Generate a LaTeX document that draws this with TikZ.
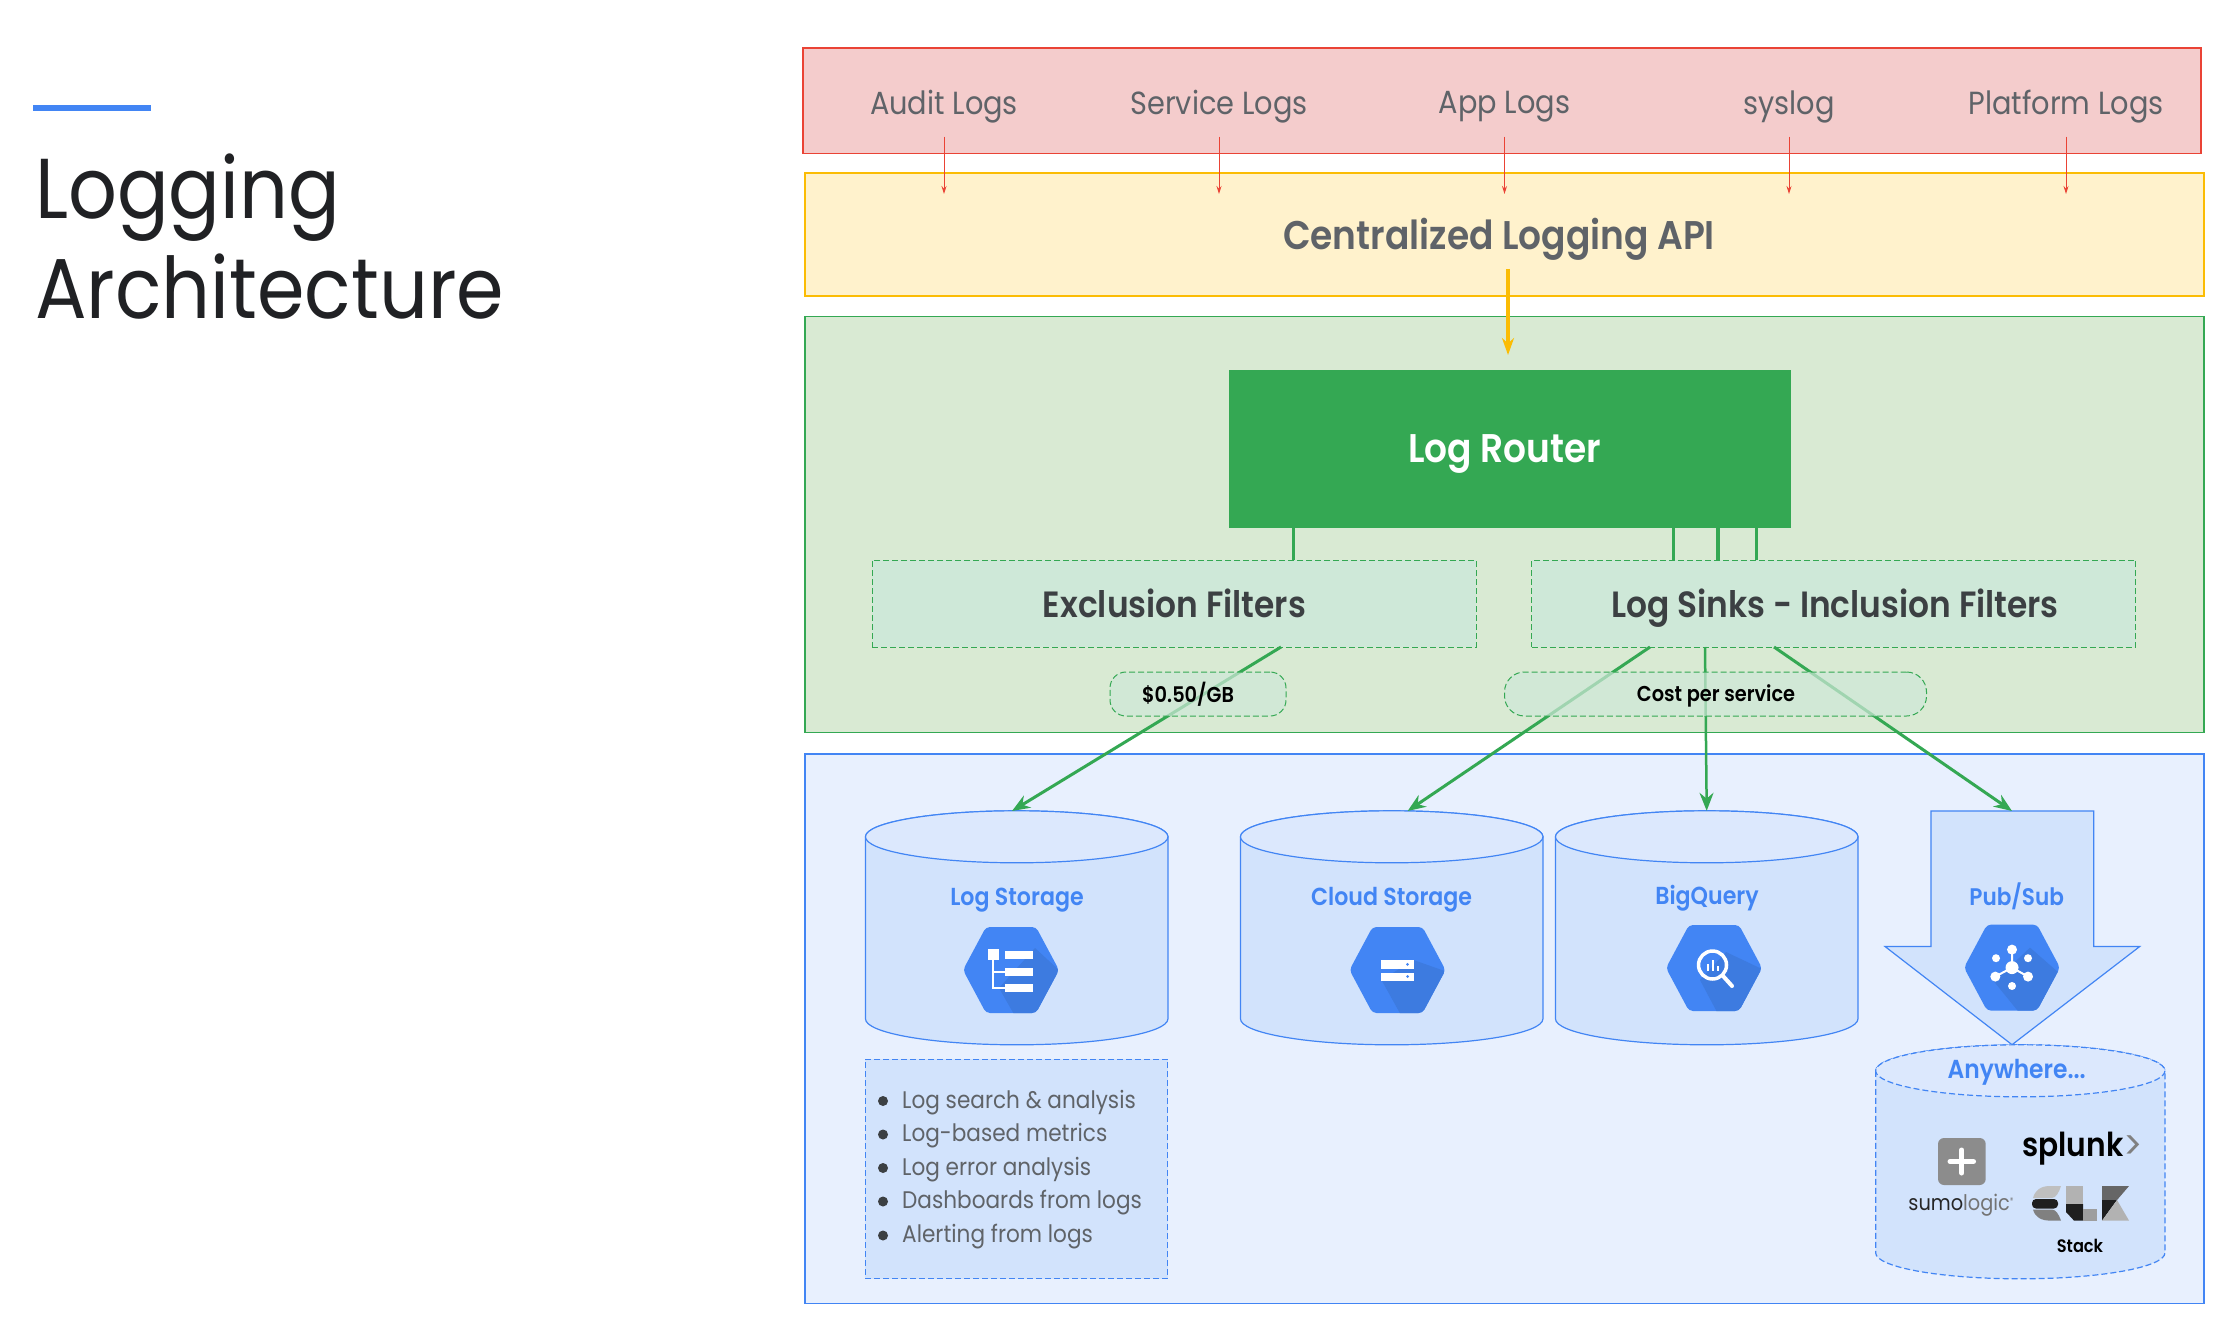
\documentclass[tikz,border=0pt]{standalone}
\usepackage{fontspec}
\usetikzlibrary{arrows.meta}
\setmainfont[FakeStretch=0.9]{Poppins}
\newfontfamily\semifont[FakeStretch=0.9]{Poppins SemiBold}
\definecolor{logred}{HTML}{EA4335}
\definecolor{logredfill}{HTML}{F4CCCC}
\definecolor{logyellow}{HTML}{FBBC04}
\definecolor{logyellowfill}{HTML}{FFF2CC}
\definecolor{loggreen}{HTML}{34A853}
\definecolor{loggreenfill}{HTML}{D9EAD3}
\definecolor{filterfill}{HTML}{CEE8D8}
\definecolor{logblue}{HTML}{4285F4}
\definecolor{logbluefill}{HTML}{E8F0FE}
\definecolor{cylbody}{HTML}{D2E3FC}
\definecolor{cyltop}{HTML}{DCE8FD}
\definecolor{hexshade}{HTML}{3D7BE0}
\definecolor{inkgray}{HTML}{3C4043}
\definecolor{softgray}{HTML}{5F6368}
\definecolor{titleink}{HTML}{202124}
\newlength{\du}
\setlength{\du}{1pt}
\newcommand{\fs}[1]{\fontsize{#1}{#1}\selectfont}
\tikzset{
  panel/.style={draw=#1, line width=1.2\du, minimum width=1399\du, inner sep=0pt},
  longdash/.style={dash pattern=on 6\du off 3\du},
  textline/.style={inner sep=0pt, execute at begin node=\vphantom{Ag}},
  filterbox/.style={draw=loggreen, fill=filterfill, longdash, line width=1\du, minimum width=604\du, minimum height=87\du, inner sep=0pt},
  filterlabel/.style={textline, text=inkgray, font=\semifont\fs{36.5}},
  pillbox/.style={draw=loggreen, longdash, rounded corners=16\du, line width=1\du, fill=filterfill, fill opacity=0.7, minimum height=44\du, inner sep=0pt},
  pilllabel/.style={textline, text=black, font=\semifont\fs{21.5}},
  lognode/.style={textline, text=softgray, font=\fs{32}, minimum height=59\du},
  bignode/.style={textline, font=\semifont\fs{40}},
  storebox/.style={minimum width=302.5\du, minimum height=234.4\du, inner sep=0pt},
  cylline/.style={draw=logblue, line width=1.2\du},
  cyllabel/.style={textline, text=logblue, font=\semifont\fs{24.6}},
  listitem/.style={textline, anchor=west, text=softgray, font=\fs{24}},
  redarrow/.style={draw=logred, line width=1\du, -{Stealth[length=8pt,width=5pt]}},
  yellowarrow/.style={draw=logyellow, line width=3.5\du, -{Stealth[length=17pt,width=12pt]}},
  greenarrow/.style={draw=loggreen, line width=3\du, -{Stealth[length=18pt,width=14pt]}},
  stub/.style={draw=loggreen, line width=3\du}
}
% hexagon badge, y runs downwards
\newcommand{\hexbadge}[3]{%
  \begin{scope}[shift={(#1\du,#2\du)}]
    \fill[logblue, rounded corners=4\du] (48\du,0\du)--(25\du,43\du)--(-25\du,43\du)--(-48\du,0\du)--(-25\du,-43\du)--(25\du,-43\du)--cycle;
    \begin{scope}
      \clip[rounded corners=4\du] (48\du,0\du)--(25\du,43\du)--(-25\du,43\du)--(-48\du,0\du)--(-25\du,-43\du)--(25\du,-43\du)--cycle;
      #3
    \end{scope}
  \end{scope}}
% store drum hung from the top of a named box
\newcommand{\drum}[3][]{%
  \begin{scope}[shift={(#2.north)}]
    \draw[cylline, fill=cylbody, #1] (-#3\du,26\du) -- (-#3\du,208\du) arc[start angle=180, end angle=0, x radius=#3\du, y radius=26\du] -- (#3\du,26\du) arc[start angle=0, end angle=-180, x radius=#3\du, y radius=26\du] -- cycle;
    \draw[cylline, fill=cyltop, #1] (0\du,26\du) ellipse [x radius=#3\du, y radius=26\du];
  \end{scope}}
\begin{document}
\begin{tikzpicture}
\pgftransformxscale{1.000000}
\pgftransformyscale{-1.000000}
\useasboundingbox (0\du,0\du) rectangle (2234\du,1324\du);
\fill[white] (0\du,0\du) rectangle (2234\du,1324\du);
% title
\fill[logblue] (33\du,105\du) rectangle (151\du,111\du);
\node[anchor=base west, inner sep=0pt, text=titleink, font=\fs{85}] (titleone) at (35\du,218.5\du) {Logging};
\node[anchor=base west, inner sep=0pt, text=titleink, font=\fs{85}] (titletwo) at (35\du,318.5\du) {Architecture};
% panels
\node[panel=logred, fill=logredfill, minimum width=1398\du, minimum height=105.5\du] (sources) at (1502\du,100.8\du) {};
\node[panel=logyellow, fill=logyellowfill, minimum height=123\du] (api) at (1504.5\du,234.5\du) {};
\node[panel=loggreen, fill=loggreenfill, minimum height=416\du] (routing) at (1504.5\du,524.5\du) {};
\node[panel=logblue, fill=logbluefill, minimum height=549.5\du] (sinks) at (1504.5\du,1028.8\du) {};
% sources
\node[lognode] (audit) at (944\du,107\du) {Audit Logs};
\node[lognode] (service) at (1219\du,107\du) {Service Logs};
\node[lognode] (app) at (1504.5\du,107\du) {App Logs};
\node[lognode] (syslog) at (1789\du,107\du) {syslog};
\node[lognode] (platform) at (2066\du,107\du) {Platform Logs};
\coordinate (auditin) at (944\du,194\du);
\coordinate (servicein) at (1219\du,194\du);
\coordinate (appin) at (1504.5\du,194\du);
\coordinate (syslogin) at (1789\du,194\du);
\coordinate (platformin) at (2066\du,194\du);
\draw[redarrow] (audit.south) -- (auditin);
\draw[redarrow] (service.south) -- (servicein);
\draw[redarrow] (app.south) -- (appin);
\draw[redarrow] (syslog.south) -- (syslogin);
\draw[redarrow] (platform.south) -- (platformin);
\node[bignode, text=softgray] (apilabel) at (1499\du,239.5\du) {Centralized Logging API};
% router and filters
\node[fill=loggreen, minimum width=562\du, minimum height=158\du, inner sep=0pt] (router) at (1510\du,449\du) {};
\node[bignode, text=white] (routerlabel) at (1504.5\du,454\du) {Log Router};
\coordinate (apiout) at (1508\du,269\du);
\coordinate (routerin) at (1508\du,355\du);
\draw[yellowarrow] (apiout) -- (routerin);
\node[filterbox] (exclusion) at (1174\du,603.5\du) {};
\node[filterbox] (inclusion) at (1833.5\du,603.5\du) {};
\node[filterlabel] (exclusionlabel) at (1174.5\du,608\du) {Exclusion Filters};
\node[filterlabel] (inclusionlabel) at (1835\du,608\du) {Log Sinks - Inclusion Filters};
\coordinate (stubone) at (1293\du,545\du);
\coordinate (stubtwo) at (1673\du,545\du);
\coordinate (stubthree) at (1718\du,545\du);
\coordinate (stubfour) at (1756\du,545\du);
\draw[stub] (router.south -| stubone) -- (exclusion.north -| stubone);
\draw[stub] (router.south -| stubtwo) -- (inclusion.north -| stubtwo);
\draw[stub, line width=4\du] (router.south -| stubthree) -- (inclusion.north -| stubthree);
\draw[stub] (router.south -| stubfour) -- (inclusion.north -| stubfour);
% stores
\node[storebox] (logstore) at (1016.7\du,928.2\du) {};
\node[storebox] (cloudstore) at (1391.7\du,928.2\du) {};
\node[storebox] (bigquery) at (1706.7\du,928.2\du) {};
\node[storebox, minimum width=289.3\du] (anywhere) at (2020.3\du,1162.2\du) {};
\drum{logstore}{151.25}
\drum{cloudstore}{151.25}
\drum{bigquery}{151.25}
\draw[cylline, fill=cylbody] (2012\du,811\du) coordinate (pubsubtop) -- (2093.7\du,811\du) -- (2093.7\du,946.5\du) -- (2139.7\du,946.5\du) -- (2012\du,1044.7\du) -- (1885\du,946.5\du) -- (1931\du,946.5\du) -- (1931\du,811\du) -- cycle;
\drum[longdash]{anywhere}{144.65}
% routes, the pills sit above them
\coordinate (logtip) at (1012\du,811\du);
\coordinate (cloudtip) at (1407.6\du,811\du);
\coordinate (exout) at (1281\du,647\du);
\coordinate (cloudout) at (1650\du,647\du);
\coordinate (bigout) at (1705\du,647\du);
\coordinate (pubout) at (1774\du,647\du);
\draw[greenarrow] (exout) -- (logtip);
\draw[greenarrow] (cloudout) -- (cloudtip);
\draw[greenarrow, line width=2.5\du] (bigout) -- (bigquery.north);
\draw[greenarrow] (pubout) -- (pubsubtop);
\node[pillbox, minimum width=176\du] (rate) at (1198\du,694\du) {};
\node[pillbox, minimum width=422\du, rounded corners=20\du] (cost) at (1715.5\du,694\du) {};
\node[pilllabel] (ratelabel) at (1188\du,695.5\du) {\$0.50/GB};
\node[pilllabel] (costlabel) at (1716\du,696.5\du) {Cost per service};
% labels and badges
\node[cyllabel] (loglabel) at (1017\du,900\du) {Log Storage};
\node[cyllabel] (cloudlabel) at (1391.6\du,900\du) {Cloud Storage};
\node[cyllabel] (biglabel) at (1707\du,898.5\du) {BigQuery};
\node[cyllabel, font=\semifont\fs{24}] (publabel) at (2016.7\du,897\du) {Pub/Sub};
\node[cyllabel, font=\semifont\fs{26}] (anywherelabel) at (2016.7\du,1072.5\du) {Anywhere...};
\hexbadge{1011}{970}{\fill[hexshade] (24\du,-22\du)--(50\du,2\du)--(26\du,46\du)--(4\du,46\du)--(-12\du,18\du)--cycle;}
\begin{scope}[shift={(1011\du,970\du)}]
  \fill[white] (-23\du,-21\du) rectangle (-12\du,-10\du);
  \fill[white] (-6\du,-19.5\du) rectangle (22\du,-11\du);
  \fill[white] (-6\du,-2.5\du) rectangle (22\du,6\du);
  \fill[white] (-6\du,14\du) rectangle (22\du,22\du);
  \draw[white, line width=1.5\du] (-18\du,-10\du) -- (-18\du,18\du) -- (-6\du,18\du);
  \draw[white, line width=1.5\du] (-18\du,2\du) -- (-6\du,2\du);
\end{scope}
\hexbadge{1397.5}{970}{\fill[hexshade] (16\du,-10\du)--(50\du,2\du)--(26\du,46\du)--(4\du,46\du)--(-16\du,10\du)--cycle;}
\begin{scope}[shift={(1397.5\du,970\du)}]
  \fill[white] (-16.5\du,-10\du) rectangle (16.5\du,-1.5\du);
  \fill[white] (-16.5\du,2.5\du) rectangle (16.5\du,10.5\du);
  \fill[logblue] (10\du,-5.7\du) circle (1.5\du);
  \fill[logblue] (10\du,6.5\du) circle (1.5\du);
\end{scope}
\hexbadge{1714}{968}{\fill[hexshade] (12\du,-16\du)--(50\du,2\du)--(26\du,46\du)--(4\du,46\du)--(-14\du,12\du)--cycle;}
\begin{scope}[shift={(1714\du,968\du)}]
  \draw[white, line width=3.5\du] (-1.5\du,-3\du) circle (14\du);
  \draw[white, line width=4\du, line cap=round] (9\du,8\du) -- (18\du,18\du);
  \fill[white] (-7.5\du,-4\du) rectangle (-5.5\du,3\du);
  \fill[white] (-2.5\du,-8\du) rectangle (-0.5\du,3\du);
  \fill[white] (2.5\du,-2\du) rectangle (4.5\du,3\du);
\end{scope}
\hexbadge{2012}{967.6}{\fill[hexshade] (18\du,-20\du)--(50\du,8\du)--(26\du,46\du)--(8\du,46\du)--(-18\du,14\du)--cycle;}
\begin{scope}[shift={(2012\du,967.6\du)}]
  \draw[white, line width=2\du] (0\du,-18\du) -- (0\du,0\du) -- (-16.7\du,9\du);
  \draw[white, line width=2\du] (0\du,0\du) -- (16\du,9\du);
  \fill[white] (0\du,0\du) circle (6.5\du);
  \fill[white] (0\du,-18\du) circle (5\du);
  \fill[white] (-16\du,-9.4\du) circle (4\du);
  \fill[white] (16\du,-9.4\du) circle (4\du);
  \fill[white] (-16.7\du,9\du) circle (5\du);
  \fill[white] (16\du,9\du) circle (5\du);
  \fill[white] (0\du,18.4\du) circle (4\du);
\end{scope}
% feature list
\node[draw=logblue, longdash, line width=1\du, fill=cylbody, minimum width=302.5\du, minimum height=219.6\du, inner sep=0pt] (features) at (1016.7\du,1168.8\du) {};
\foreach \i/\y/\txt in {1/1102.5/Log search \& analysis, 2/1136/Log-based metrics, 3/1169.5/Log error analysis, 4/1203/Dashboards from logs, 5/1237/Alerting from logs} {
  \fill[inkgray] (883\du,\y\du-1.5\du) circle (5\du);
  \node[listitem] (item\i) at (902\du,\y\du) {\txt};
}
% logos in the last store
\fill[black!45!white, rounded corners=6\du] (1938\du,1138\du) rectangle (1985.7\du,1185\du);
\draw[white, line width=5\du, line cap=round] (1950\du,1161.5\du) -- (1973.5\du,1161.5\du);
\draw[white, line width=5\du, line cap=round] (1961.8\du,1150\du) -- (1961.8\du,1173\du);
\node[inner sep=0pt, font=\fs{21.5}] (sumologo) at (1961\du,1205\du) {\textcolor{black!85!white}{sumo}\textcolor{black!55!white}{logic}{\fs{8}\raisebox{7pt}{\textcolor{black!55!white}{®}}}};
\node[inner sep=0pt, anchor=west, font=\semifont\fs{33}] (splunklogo) at (2022\du,1149\du) {splunk};
\node[inner sep=0pt, anchor=west, text=black!50!white, font=\fs{40}] (splunkmark) at (2123\du,1148\du) {>};
\fill[black!25!white] (2033\du,1198\du) .. controls (2035\du,1190\du) and (2041\du,1186\du) .. (2050\du,1186\du) -- (2061\du,1186\du) .. controls (2059\du,1192\du) and (2056\du,1198\du) .. (2052\du,1198\du) -- cycle;
\fill[black!88!white, rounded corners=4\du] (2032\du,1199\du) rectangle (2058\du,1208.5\du);
\fill[black!50!white] (2033\du,1209.5\du) .. controls (2035\du,1217\du) and (2041\du,1220.6\du) .. (2050\du,1220.6\du) -- (2061\du,1220.6\du) .. controls (2059\du,1215\du) and (2056\du,1209.5\du) .. (2052\du,1209.5\du) -- cycle;
\fill[black!30!white] (2066\du,1186\du) rectangle (2083\du,1204\du);
\fill[black!88!white] (2066\du,1204\du) -- (2083\du,1204\du) -- (2083\du,1220.6\du) -- (2074\du,1220.6\du) -- (2066\du,1212\du) -- cycle;
\fill[black!38!white] (2083\du,1209\du) rectangle (2096.5\du,1220.6\du);
\fill[black!60!white] (2102\du,1186\du) -- (2129\du,1186\du) -- (2117\du,1200\du) -- (2102\du,1200\du) -- cycle;
\fill[black!88!white] (2102\du,1200\du) -- (2117\du,1200\du) -- (2102\du,1220.6\du) -- cycle;
\fill[black!30!white] (2117\du,1200\du) -- (2129\du,1220.6\du) -- (2102\du,1220.6\du) -- cycle;
\node[textline, font=\semifont\fs{18}, text=black] (stacklabel) at (2080\du,1248.5\du) {Stack};
\end{tikzpicture}
\end{document}
